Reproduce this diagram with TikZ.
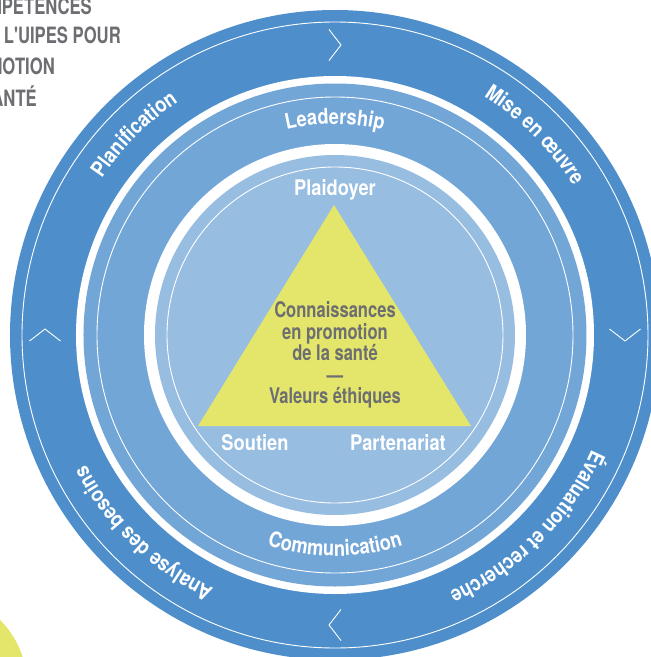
\documentclass[tikz,border=0pt]{standalone}
\usepackage{fontspec}
\setmainfont{TeX Gyre Heros}[FakeStretch=0.77]
\newfontfamily\widefont{TeX Gyre Heros}[FakeStretch=0.85]
\newfontfamily\headface{TeX Gyre Heros}[FakeStretch=0.74]
\usetikzlibrary{decorations.text,calc}
\definecolor{bandout}{HTML}{4E8FCB}
\definecolor{bandmid}{HTML}{72A6D7}
\definecolor{bandin}{HTML}{97BDE1}
\definecolor{pyramid}{HTML}{E3E66B}
\definecolor{greytxt}{HTML}{6D6E71}
\newcommand{\lbl}{\widefont\fontsize{21.5}{21.5}\selectfont\bfseries}
\newcommand{\corefont}{\fontsize{21.5}{21.5}\selectfont\bfseries}
\newcommand{\headfont}{\headface\fontsize{22.5}{31}\selectfont\bfseries}

\begin{document}
\begin{tikzpicture}[x=1pt,y=1pt,
	ringline/.style={white,line width=0.9pt},
	chevron/.style={white,line width=0.9pt},
	inlabel/.style={text=white,font=\lbl,inner sep=0pt},
	corelabel/.style={text=greytxt,font=\corefont,inner sep=0pt,align=center},
	headlabel/.style={text=greytxt,font=\headfont,inner sep=0pt,anchor=east},
	arclabel/.style={decorate,decoration={text along path,text align=center,
		text={|\lbl\color{white}|#1}}}]
	\useasboundingbox (-335,-322) rectangle (316,335);
	% rings
	\fill[bandout] (0,0) circle (325);
	\fill[white] (0,0) circle (259);
	\fill[bandmid] (0,0) circle (251.5);
	\fill[white] (0,0) circle (191);
	\fill[bandin] (0,0) circle (180);
	\draw[ringline] (0,0) circle (313);
	\draw[ringline] (0,0) circle (238);
	\draw[ringline] (0,0) circle (168);
	% arrows on the outer band
	\foreach \a in {90,0,-90,180}
		\draw[chevron] ($(\a:290)+(\a-90:-6)+(\a:15.5)$) -- ($(\a:290)+(\a-90:6)$)
			-- ($(\a:290)+(\a-90:-6)+(\a:-15.5)$);
	% outer labels
	\path[arclabel=Planification] (180:281) arc[start angle=180,end angle=90,radius=281];
	\path[arclabel=Mise en œuvre] (90:281) arc[start angle=90,end angle=0,radius=281];
	\path[arclabel=Évaluation et recherche] (0:281) arc[start angle=0,end angle=-90,radius=281];
	\path[arclabel=Analyse des besoins] (-89:281) arc[start angle=-89,end angle=-179,radius=281];
	% middle labels
	\path[arclabel=Leadership] (135:211) arc[start angle=135,end angle=45,radius=211];
	\path[arclabel=Communication] (-135:221) arc[start angle=-135,end angle=-45,radius=221];
	% pyramid
	\coordinate (apex) at (-1,130);
	\coordinate (baseL) at (-137,-91);
	\coordinate (baseR) at (136,-91);
	\fill[pyramid] (apex) -- (baseR) -- (baseL) -- cycle;
	\node[corelabel] (core) at (0,-20) {Connaissances\\en promotion\\de la santé\\—\\Valeurs éthiques};
	\node[inlabel] (plaid) at (0,145) {Plaidoyer};
	\node[inlabel] (sout) at (-80,-108) {Soutien};
	\node[inlabel] (part) at (63,-108) {Partenariat};
	% title, cut by the frame
	\node[headlabel] (head1) at (-243,331) {COMPÉTENCES};
	\node[headlabel] (head2) at (-214,300) {DE L'UIPES POUR};
	\node[headlabel] (head3) at (-280,269) {PROMOTION};
	\node[headlabel] (head4) at (-298,239) {SANTÉ};
	% corner disc
	\fill[pyramid] (-400,-350) circle (92);
\end{tikzpicture}
\end{document}
